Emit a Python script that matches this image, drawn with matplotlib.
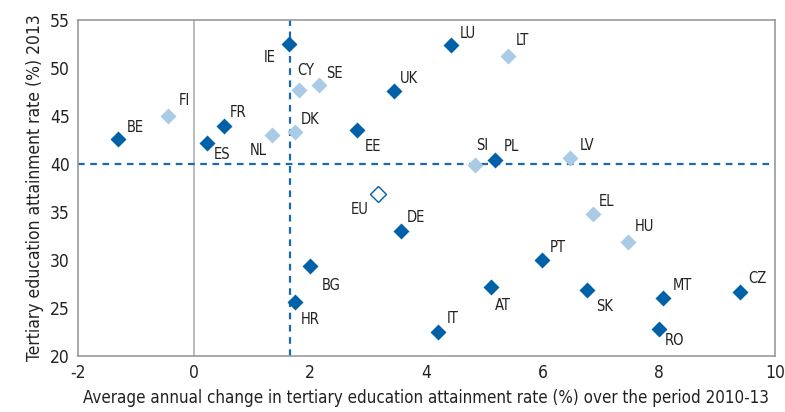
import matplotlib
matplotlib.use("Agg")
import matplotlib.pyplot as plt

plt.rcParams['font.family'] = ['DejaVu Sans']
plt.rcParams['font.stretch'] = 'condensed'
plt.rcParams['axes.unicode_minus'] = False

# country codes, annual change 2010-13, attainment 2013, group (1 = dark, 0 = light)
countries = ['BE', 'FI', 'FR', 'ES', 'IE', 'CY', 'SE', 'NL', 'DK', 'EE', 'UK', 'LU', 'LT',
             'SI', 'PL', 'LV', 'DE', 'BG', 'HR', 'IT', 'AT', 'PT', 'SK', 'EL', 'HU', 'MT',
             'RO', 'CZ']
change = [-1.31, -0.45, 0.51, 0.22, 1.63, 1.80, 2.15, 1.34, 1.74, 2.81, 3.44, 4.42, 5.40,
          4.83, 5.18, 6.47, 3.56, 2.00, 1.74, 4.20, 5.11, 5.99, 6.77, 6.87, 7.47, 8.07,
          8.00, 9.40]
rate = [42.6, 45.0, 43.96, 42.2, 52.5, 47.7, 48.2, 43.0, 43.3, 43.6, 47.6, 52.4, 51.25,
        39.9, 40.4, 40.6, 33.0, 29.4, 25.6, 22.5, 27.2, 30.0, 26.9, 34.8, 31.9, 26.0,
        22.8, 26.7]
group = [1, 0, 1, 1, 1, 0, 0, 0, 0, 1, 1, 1, 0,
         0, 1, 0, 1, 1, 1, 1, 1, 1, 1, 0, 0, 1,
         1, 1]
eu_change, eu_rate = 3.17, 36.9
avg_change, target_rate = 1.65, 40

# label offsets in pixels (dx, dy, ha, va)
offsets = {
    'BE': (9, 4, 'left', 'bottom'), 'FI': (11, 8, 'left', 'bottom'),
    'FR': (6, 6, 'left', 'bottom'), 'ES': (7, -4, 'left', 'top'),
    'IE': (-13, -6, 'right', 'top'), 'CY': (-1, 12, 'left', 'bottom'),
    'SE': (7, 4, 'left', 'bottom'), 'NL': (-5, -8, 'right', 'top'),
    'DK': (6, 5, 'left', 'bottom'), 'EE': (7, -9, 'left', 'top'),
    'UK': (6, 5, 'left', 'bottom'), 'LU': (9, 4, 'left', 'bottom'),
    'LT': (8, 8, 'left', 'bottom'), 'SI': (2, 12, 'left', 'bottom'),
    'PL': (9, 6, 'left', 'bottom'), 'LV': (10, 5, 'left', 'bottom'),
    'DE': (6, 6, 'left', 'bottom'), 'BG': (11, -12, 'left', 'top'),
    'HR': (6, -10, 'left', 'top'), 'IT': (9, 6, 'left', 'bottom'),
    'AT': (4, -11, 'left', 'top'), 'PT': (8, 5, 'left', 'bottom'),
    'SK': (9, -9, 'left', 'top'), 'EL': (6, 5, 'left', 'bottom'),
    'HU': (7, 8, 'left', 'bottom'), 'MT': (10, 5, 'left', 'bottom'),
    'RO': (6, -4, 'left', 'top'), 'CZ': (8, 6, 'left', 'bottom'),
}

dark = '#0060A8'
light = '#A9CBE5'
line_blue = '#1B6AB0'

fig = plt.figure(figsize=(7.85, 4.12), dpi=100)
ax = fig.add_axes([0.0994, 0.136, 0.8876, 0.815])

ax.axvline(0, color='#b0b0b0', lw=1.2, zorder=1)
ax.axhline(target_rate, color=line_blue, lw=1.6, ls=(0, (3, 2.5)), zorder=1)
ax.axvline(avg_change, color=line_blue, lw=1.6, ls=(0, (3, 2.5)), zorder=1)

for c, x, y, g in zip(countries, change, rate, group):
    ax.plot(x, y, marker='D', ms=7.8, color=dark if g else light, mec='none', zorder=3)
    dx, dy, ha, va = offsets[c]
    ax.annotate(c, (x, y), xytext=(dx, dy), textcoords='offset pixels',
                ha=ha, va=va, fontsize=10.5, color='#222222')

ax.plot(eu_change, eu_rate, marker='D', ms=7.8, mfc='white', mec=dark, mew=1.0, zorder=3)
ax.annotate('EU', (eu_change, eu_rate), xytext=(-10, -8), textcoords='offset pixels',
            ha='right', va='top', fontsize=10.5, color='#222222')

ax.set_xlim(-2, 10)
ax.set_ylim(20, 55)
ax.set_xticks(range(-2, 11, 2))
ax.set_yticks(range(20, 56, 5))
ax.tick_params(length=0, labelsize=12.5, colors='#222222', pad=6)
for s in ax.spines.values():
    s.set_color('#999999')
    s.set_linewidth(1.2)

ax.set_xlabel('Average annual change in tertiary education attainment rate (%) over the period 2010-13',
              fontsize=12.2, color='#222222', labelpad=5)
ax.set_ylabel('Tertiary education attainment rate (%) 2013', fontsize=12.5, color='#222222', labelpad=4)

fig.savefig('out.png', dpi=100)
